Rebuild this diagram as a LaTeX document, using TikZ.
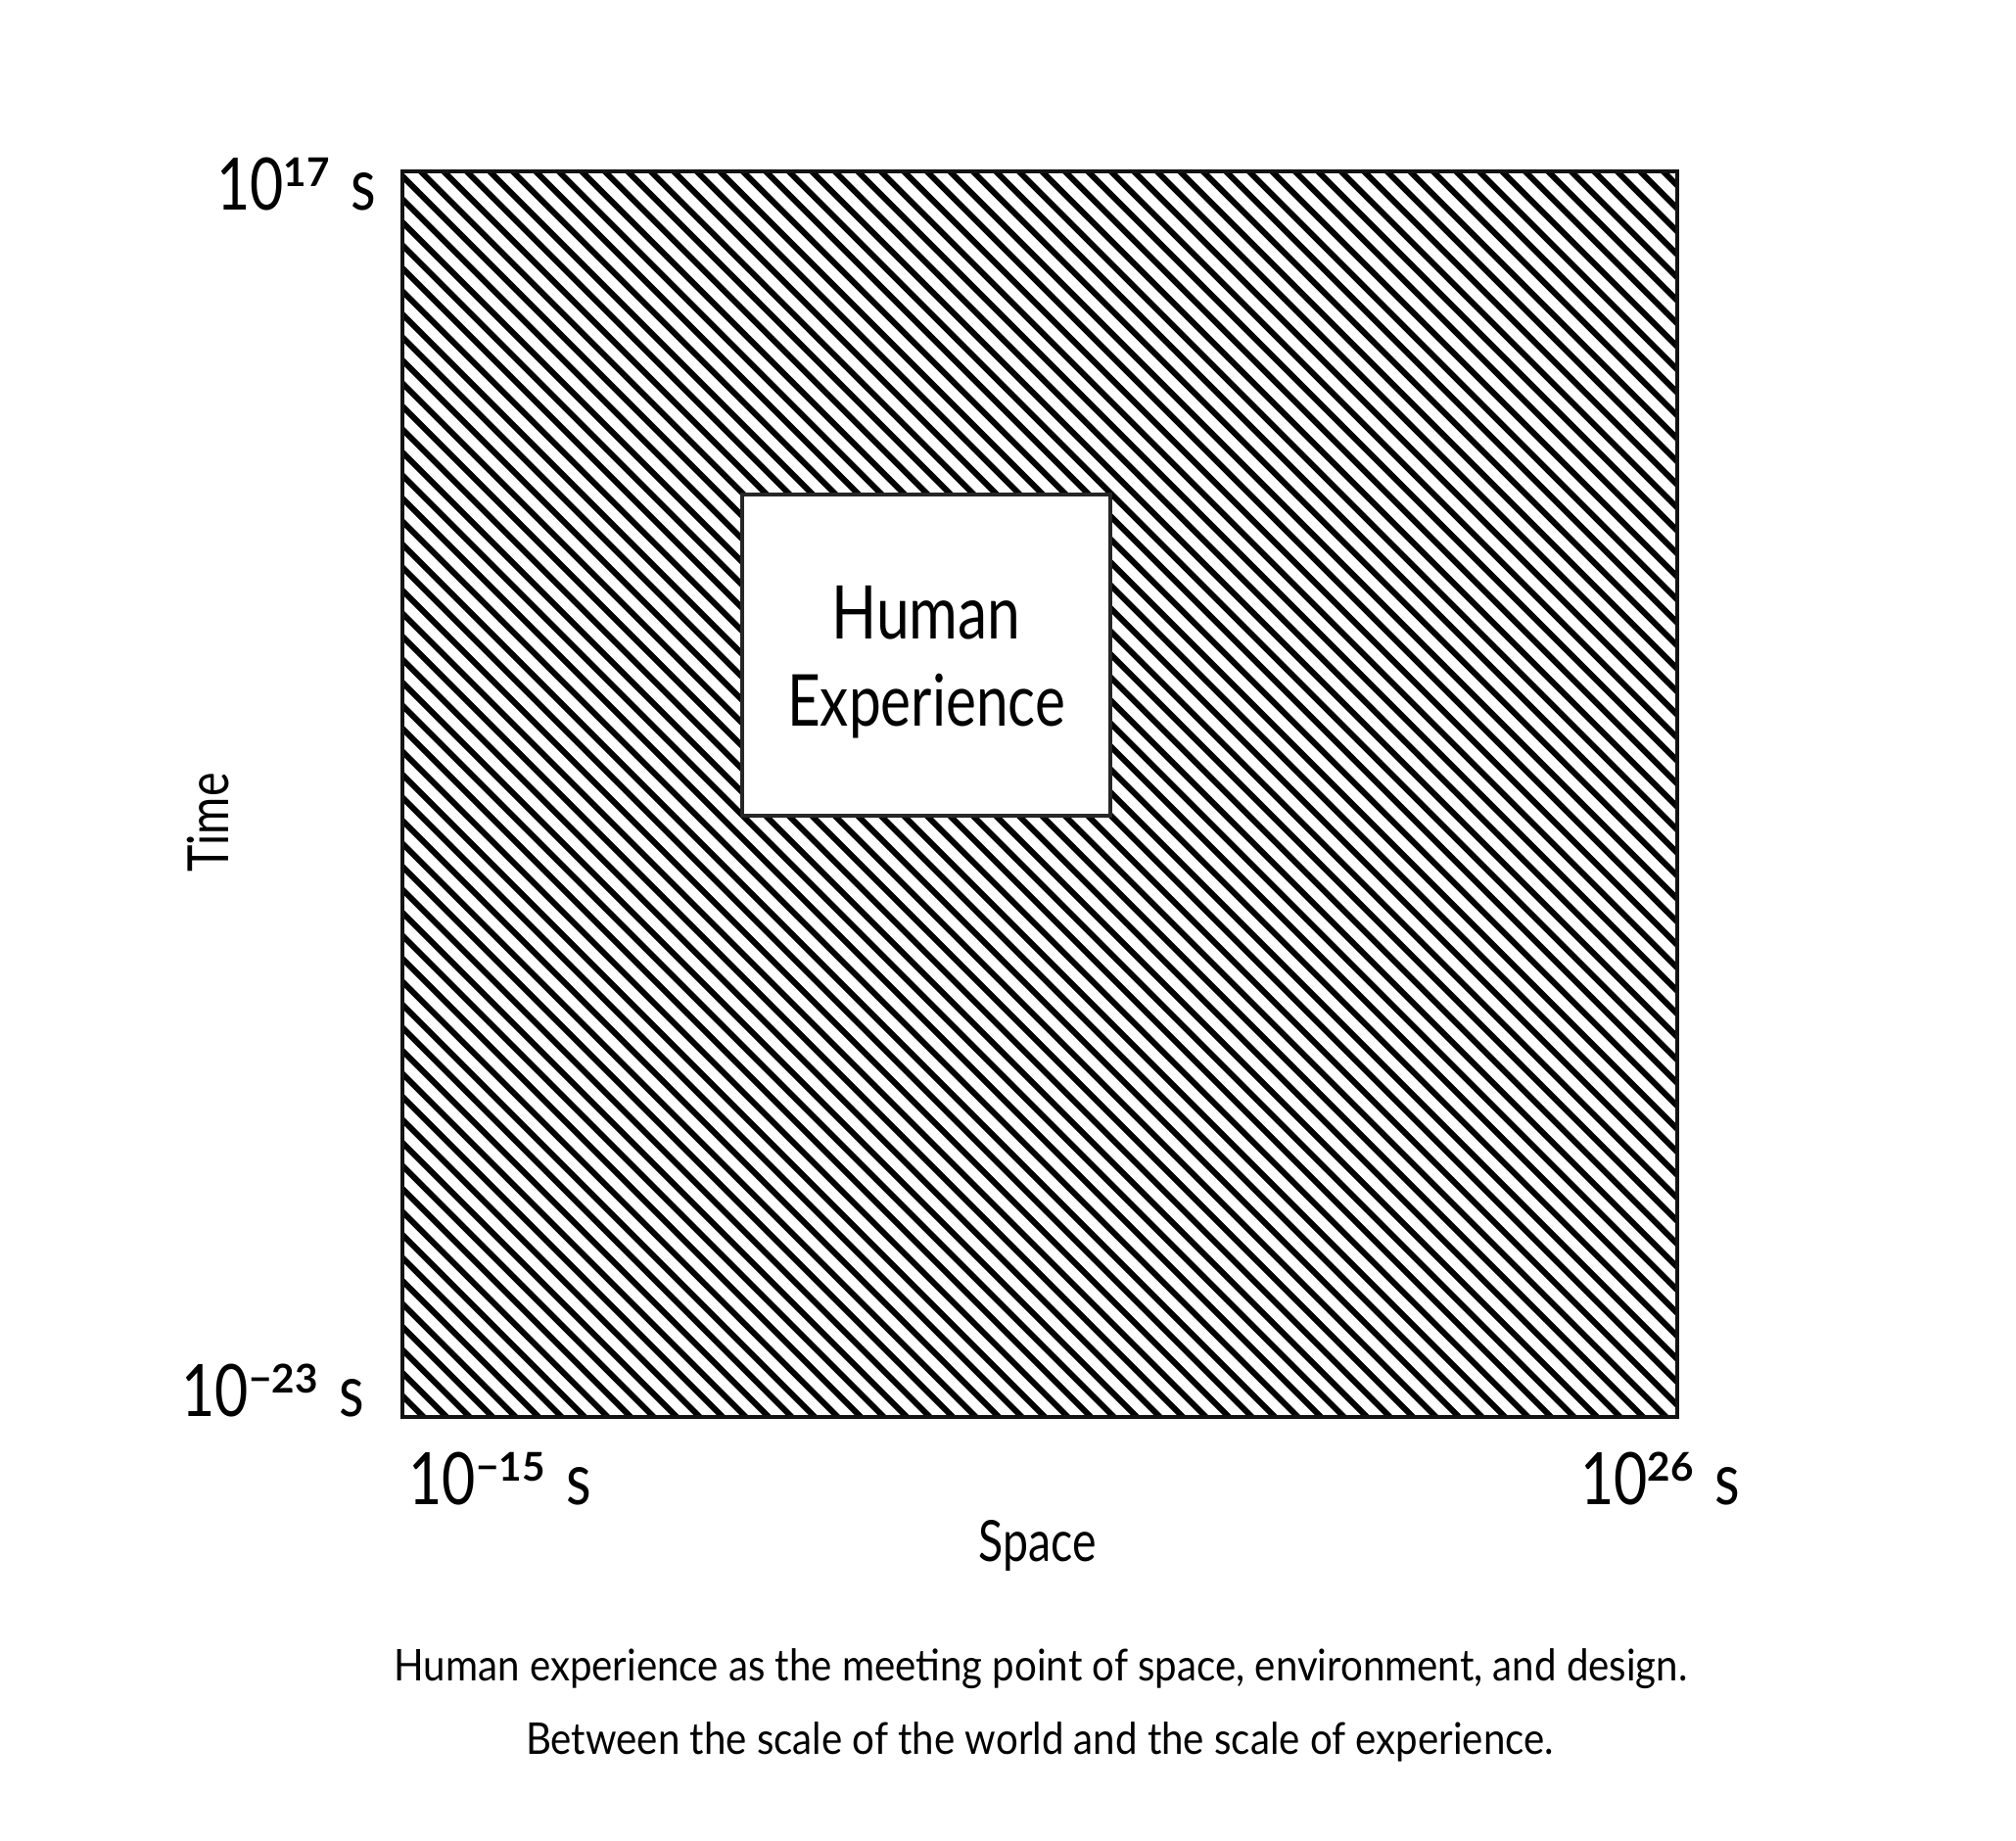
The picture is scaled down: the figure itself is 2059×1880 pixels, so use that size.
\documentclass[tikz,border=0pt]{standalone}
\usepackage{fontspec}
\setmainfont{Lato}[FakeStretch=0.8]
\newfontfamily\capfont{Lato}[FakeStretch=0.9]
\newfontfamily\expfont{Lato}
\usetikzlibrary{calc}

% power of ten with a raised exponent, then the unit
\newcommand\tenpow[1]{10\raisebox{7pt}{\expfont\bfseries\fontsize{11.5}{11.5}\selectfont #1}\hspace{0.3em}s}

\begin{document}
\begin{tikzpicture}[x=0.01cm, y=-0.01cm,
    framebox/.style={line width=0.04cm, draw=black!93},
    hatchline/.style={line width=0.06cm, black},
    humanbox/.style={draw=black!85, line width=0.035cm, fill=white,
        minimum width=3.76cm, minimum height=3.28cm, inner sep=0pt},
    ticklbl/.style={font=\fontsize{21}{25}\selectfont, inner sep=0pt},
    axislbl/.style={font=\fontsize{16.5}{20}\selectfont, inner sep=0pt},
    capline/.style={font=\capfont\fontsize{12.7}{15}\selectfont, inner sep=0pt},
    boxtxt/.style={inner sep=0pt, anchor=base}]

    \useasboundingbox (0,0) rectangle (2059,1880);
    % corners of the space-time square
    \coordinate (nw) at (411,175);
    \coordinate (se) at (1713,1447);

    % hatching, clipped to the square
    \begin{scope}
        \clip (nw) rectangle (se);
        \foreach \k in {0,...,110}
            \draw[hatchline] ({-873+23.5*\k},165) -- ++(1300,1300);
    \end{scope}
    \draw[framebox] (nw) rectangle (se);

    % human experience window
    \node[humanbox] (human) at (946,669) {};
    \node[boxtxt, font=\fontsize{21.5}{25}\selectfont] (humanA) at (946,653) {Human};
    \node[boxtxt, font=\fontsize{20.8}{25}\selectfont] (humanB) at (946,742) {Experience};

    % scale labels
    \node[ticklbl, anchor=base east] (tmax) at ($(nw)+(-26,40)$) {\tenpow{17}};
    \node[ticklbl, anchor=base east] (tmin) at ($(nw |- se)+(-38,0)$) {\tenpow{−23}};
    \node[ticklbl, anchor=base west] (smin) at ($(nw |- se)+(6,90)$) {\tenpow{−15}};
    \node[ticklbl, anchor=base east] (smax) at ($(se)+(65,90)$) {\tenpow{26}};

    % axis names
    \node[axislbl, anchor=base] (space) at (1060,1595) {Space};
    \node[axislbl, anchor=base, rotate=90] (time) at (233,840) {Time};

    % caption
    \node[capline, anchor=base] (capA) at (1063,1717)
        {Human experience as the meeting point of space, environment, and design.};
    \node[capline, anchor=base] (capB) at (1062,1792)
        {Between the scale of the world and the scale of experience.};
\end{tikzpicture}
\end{document}
